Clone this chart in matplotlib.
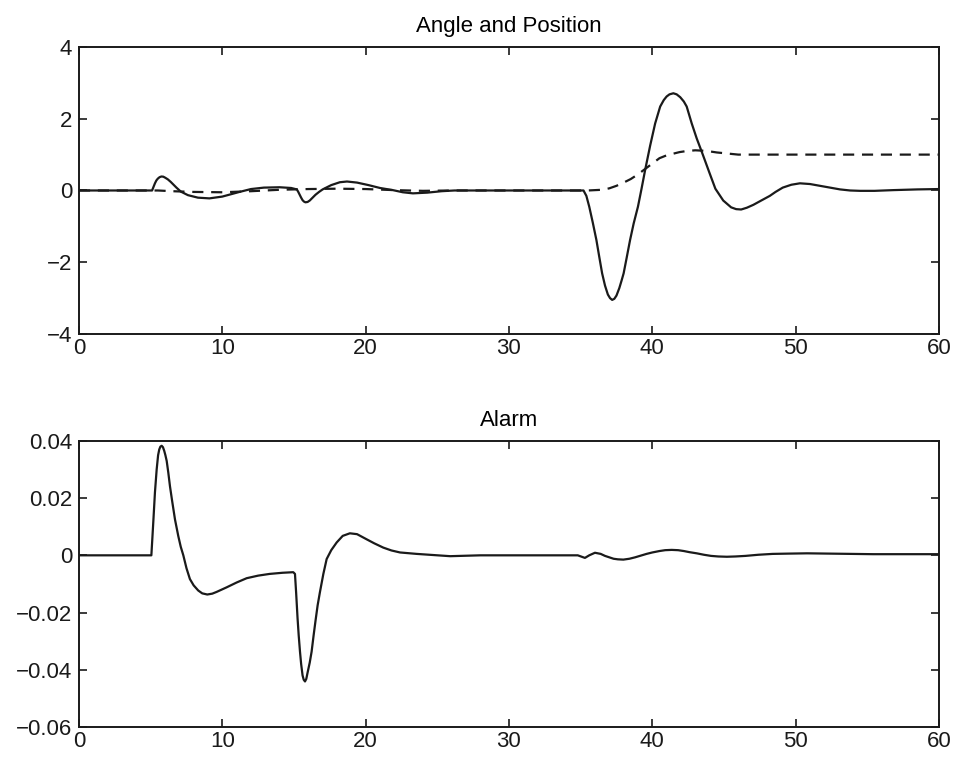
import matplotlib
matplotlib.use('Agg')
import matplotlib.pyplot as plt

plt.rcParams['font.family'] = ['Liberation Sans', 'DejaVu Sans']

# Angle (solid)
angle_t = [0, 5.1, 5.2, 5.3, 5.4, 5.5, 5.62, 5.75, 5.88, 6.0, 6.2, 6.4, 6.8, 7.1, 7.6, 8.3,
           9.1, 10.0, 11.2, 12.0, 12.9, 14.0, 14.8, 15.2, 15.3, 15.4, 15.5, 15.6, 15.7,
           15.8, 15.95, 16.1, 16.3, 16.5, 16.75, 17.0, 17.6, 18.2, 18.7, 19.4, 20.2, 21.0,
           21.9, 22.6, 23.3, 24.3, 25.3, 26.2, 35.2, 35.4, 35.6, 35.85, 36.1, 36.3, 36.5,
           36.7, 36.9, 37.05, 37.2, 37.35, 37.5, 37.7, 37.85, 38.0, 38.2, 38.45, 38.7, 39.0,
           39.25, 39.5, 39.85, 40.2, 40.55, 40.8, 41.0, 41.2, 41.47, 41.7, 41.95, 42.2, 42.4,
           42.75, 43.1, 43.45, 44.0, 44.4, 44.95, 45.5, 45.85, 46.2, 46.6, 47.05, 47.6, 48.2,
           48.6, 49.1, 49.7, 50.3, 51.0, 51.7, 52.4, 53.1, 53.8, 54.5, 55.5, 56.8, 58.5, 60]
angle = [0, 0, 0.1, 0.2, 0.28, 0.33, 0.37, 0.39, 0.385, 0.36, 0.31, 0.24, 0.08, -0.03,
         -0.13, -0.2, -0.22, -0.17, -0.04, 0.04, 0.08, 0.09, 0.07, 0.03, -0.04, -0.12, -0.2,
         -0.27, -0.31, -0.33, -0.32, -0.28, -0.2, -0.12, -0.04, 0.03, 0.15, 0.23, 0.25, 0.22,
         0.15, 0.07, 0.01, -0.05, -0.08, -0.06, -0.02, 0.0, 0.0, -0.15, -0.45, -0.9, -1.38,
         -1.85, -2.31, -2.65, -2.9, -3.0, -3.05, -3.02, -2.93, -2.72, -2.52, -2.31, -1.9,
         -1.38, -0.92, -0.45, 0.05, 0.57, 1.25, 1.87, 2.34, 2.52, 2.62, 2.68, 2.71, 2.68,
         2.6, 2.48, 2.34, 1.87, 1.45, 1.08, 0.48, 0.05, -0.28, -0.47, -0.52, -0.53, -0.48,
         -0.4, -0.28, -0.15, -0.04, 0.08, 0.16, 0.2, 0.18, 0.13, 0.08, 0.03, 0.0, -0.01,
         -0.01, 0.01, 0.03, 0.04]

# Position (dashed)
pos_t = [0, 5.5, 6.5, 8, 10, 12, 14, 16, 18, 20, 22, 24, 26, 35.5, 36.5, 37.0, 37.5, 38.0,
         38.5, 39.0, 39.5, 40.0, 40.5, 41.0, 41.5, 41.9, 42.4, 43.0, 43.5, 44.0, 44.5, 45.0,
         45.5, 46.0, 60]
pos = [0, 0, -0.02, -0.04, -0.05, -0.02, 0.02, 0.04, 0.05, 0.04, 0.01, -0.01, 0, 0, 0.02,
       0.06, 0.13, 0.22, 0.32, 0.45, 0.6, 0.75, 0.9, 0.98, 1.03, 1.07, 1.1, 1.12, 1.11, 1.09,
       1.06, 1.04, 1.02, 1.0, 1.0]

# Alarm signal, lower panel
alarm_t = [0, 5.05, 5.12, 5.2, 5.3, 5.42, 5.52, 5.6, 5.68, 5.77, 5.86, 5.95, 6.03, 6.12,
           6.23, 6.35, 6.5, 6.7, 6.93, 7.1, 7.28, 7.5, 7.74, 8.0, 8.32, 8.6, 8.95, 9.3, 9.6,
           10.3, 11.0, 11.7, 12.5, 13.3, 14.2, 14.95, 15.07, 15.15, 15.25, 15.33, 15.42,
           15.5, 15.6, 15.68, 15.77, 15.86, 15.95, 16.1, 16.23, 16.37, 16.5, 16.65, 16.81,
           17.05, 17.28, 17.6, 17.98, 18.4, 18.9, 19.4, 19.7, 20.07, 20.6, 21.23, 21.8, 22.4,
           23.56, 25.9, 28, 34.8, 35.3, 35.6, 36.0, 36.4, 36.7, 37.3, 37.6, 37.98, 38.4,
           38.8, 39.2, 39.6, 40.0, 40.5, 40.9, 41.35, 41.8, 42.2, 42.6, 43.1, 43.6, 44.1,
           44.6, 45.2, 45.8, 46.5, 47.4, 48.4, 49.5, 50.8, 55.4, 60]
alarm = [0, 0, 0.006, 0.013, 0.022, 0.03, 0.035, 0.037, 0.038, 0.0383, 0.0378, 0.0365,
         0.035, 0.033, 0.029, 0.0241, 0.019, 0.0125, 0.0067, 0.003, 0.0, -0.0045, -0.0083,
         -0.0105, -0.0123, -0.0133, -0.0137, -0.0134, -0.0128, -0.0112, -0.0095, -0.008,
         -0.0071, -0.0065, -0.0061, -0.0059, -0.0065, -0.013, -0.022, -0.028, -0.0337,
         -0.038, -0.042, -0.0435, -0.0441, -0.0432, -0.041, -0.0375, -0.0337, -0.028,
         -0.023, -0.0175, -0.0129, -0.0065, -0.0013, 0.0018, 0.0045, 0.0068, 0.0077,
         0.0074, 0.0066, 0.0056, 0.0042, 0.0027, 0.0017, 0.001, 0.0005, -0.0003, 0, 0,
         -0.0009, 0.0, 0.0009, 0.0005, -0.0002, -0.0012, -0.0014, -0.0015, -0.0012,
         -0.0007, -0.0001, 0.0005, 0.001, 0.0015, 0.0018, 0.0019, 0.0018, 0.0015, 0.0011,
         0.0007, 0.0002, -0.0002, -0.0004, -0.0005, -0.0004, -0.0002, 0.0002, 0.0005,
         0.0006, 0.0007, 0.0004, 0.0004]

x_ticks = [0, 10, 20, 30, 40, 50, 60]
top_yticks = [-4, -2, 0, 2, 4]
top_ylabels = ['\u22124', '\u22122', '0', '2', '4']
bot_yticks = [-0.06, -0.04, -0.02, 0, 0.02, 0.04]
bot_ylabels = ['\u22120.06', '\u22120.04', '\u22120.02', '0', '0.02', '0.04']

fig = plt.figure(figsize=(9.55, 7.58), dpi=100)
ax1 = fig.add_axes([0.0827, 0.5594, 0.9005, 0.3786])
ax2 = fig.add_axes([0.0827, 0.0410, 0.9005, 0.3773])

ax1.plot(angle_t, angle, color='#1a1a1a', linewidth=1.6)
ax1.plot(pos_t, pos, color='#1a1a1a', linewidth=1.6, dashes=(5, 3.5))
ax1.set_xlim(0, 60)
ax1.set_ylim(-4, 4)
ax1.set_yticks(top_yticks)
ax1.set_yticklabels(top_ylabels)
ax1.set_title('Angle and Position', fontsize=16, pad=11)

ax2.plot(alarm_t, alarm, color='#1a1a1a', linewidth=1.6)
ax2.set_xlim(0, 60)
ax2.set_ylim(-0.06, 0.04)
ax2.set_yticks(bot_yticks)
ax2.set_yticklabels(bot_ylabels)
ax2.set_title('Alarm', fontsize=16, pad=11)

for ax in (ax1, ax2):
    ax.set_xticks(x_ticks)
    ax.tick_params(direction='in', top=True, right=True, length=6, width=1.2,
                   labelsize=16, colors='#1a1a1a')
    ax.tick_params(axis='x', pad=3)
    ax.tick_params(axis='y', pad=5)
    for s in ax.spines.values():
        s.set_linewidth(1.4)
        s.set_color('#1a1a1a')

fig.savefig('out.png', dpi=100)
